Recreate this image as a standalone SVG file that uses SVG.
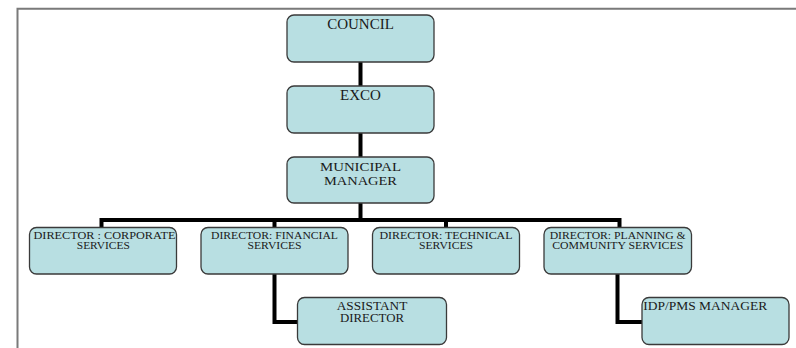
<svg xmlns="http://www.w3.org/2000/svg" width="796" height="348" viewBox="0 0 796 348">
<style>
.box{fill:#b8dfe2;stroke:#3a3a3a;stroke-width:1.3}
.t{font-family:"Liberation Serif","Times New Roman",serif;fill:#1a1a1a;text-anchor:middle}
.big{font-size:15px}
.two{font-size:13.5px}
.mid{font-size:11.5px}
.sm{font-size:9.5px}
.conn{fill:none;stroke:#000;stroke-width:4;stroke-linejoin:miter}
</style>
<rect width="796" height="348" fill="#fff"/>
<path d="M17.5,348 V8.8 H796" fill="none" stroke="#7a7a7a" stroke-width="2"/>
<g id="connectors">
<path class="conn" d="M360.5,62 V86"/>
<path class="conn" d="M360.5,133 V157"/>
<path class="conn" d="M360.5,203 V220"/>
<path class="conn" d="M101.5,227 V220 H619.5 V227"/>
<path class="conn" d="M274.5,220 V227"/>
<path class="conn" d="M446,220 V227"/>
<path class="conn" d="M274.5,274 V322 H298"/>
<path class="conn" d="M617.5,274 V322 H642"/>
</g>
<g id="council">
<rect class="box" x="287" y="15" width="147" height="47" rx="7"/>
<text class="t big" x="360.5" y="29.3">COUNCIL</text>
</g>
<g id="exco">
<rect class="box" x="287" y="86" width="147" height="47" rx="7"/>
<text class="t big" x="360.5" y="100">EXCO</text>
</g>
<g id="municipal-manager">
<rect class="box" x="287" y="157" width="147" height="46" rx="7"/>
<text class="t two" x="360.5" y="170.7" textLength="81" lengthAdjust="spacingAndGlyphs">MUNICIPAL</text>
<text class="t two" x="360.5" y="184.7" textLength="73" lengthAdjust="spacingAndGlyphs">MANAGER</text>
</g>
<g id="dir-corporate">
<rect class="box" x="29.5" y="227.5" width="147" height="46.5" rx="7"/>
<text class="t sm" x="104.5" y="238.5" textLength="142" lengthAdjust="spacingAndGlyphs">DIRECTOR : CORPORATE</text>
<text class="t sm" x="103.3" y="249" textLength="53" lengthAdjust="spacingAndGlyphs">SERVICES</text>
</g>
<g id="dir-financial">
<rect class="box" x="201" y="227.5" width="147" height="46.5" rx="7"/>
<text class="t sm" x="274.5" y="238.5" textLength="127" lengthAdjust="spacingAndGlyphs">DIRECTOR: FINANCIAL</text>
<text class="t sm" x="274.5" y="249" textLength="54" lengthAdjust="spacingAndGlyphs">SERVICES</text>
</g>
<g id="dir-technical">
<rect class="box" x="372.5" y="227.5" width="147" height="46.5" rx="7"/>
<text class="t sm" x="446" y="238.5" textLength="133" lengthAdjust="spacingAndGlyphs">DIRECTOR: TECHNICAL</text>
<text class="t sm" x="446" y="249" textLength="54" lengthAdjust="spacingAndGlyphs">SERVICES</text>
</g>
<g id="dir-planning">
<rect class="box" x="544" y="227.5" width="147.5" height="46.5" rx="7"/>
<text class="t sm" x="617.7" y="238.5" textLength="136" lengthAdjust="spacingAndGlyphs">DIRECTOR: PLANNING &amp;</text>
<text class="t sm" x="617.7" y="249" textLength="131" lengthAdjust="spacingAndGlyphs">COMMUNITY SERVICES</text>
</g>
<g id="assistant-director">
<rect class="box" x="297.5" y="297.5" width="149" height="47" rx="7"/>
<text class="t mid" x="372" y="310" textLength="70.5" lengthAdjust="spacingAndGlyphs">ASSISTANT</text>
<text class="t mid" x="372" y="322" textLength="64" lengthAdjust="spacingAndGlyphs">DIRECTOR</text>
</g>
<g id="idp-pms-manager">
<rect class="box" x="642" y="297.5" width="147" height="47" rx="7"/>
<text class="t mid" x="643.3" y="310" style="text-anchor:start" textLength="124" lengthAdjust="spacingAndGlyphs">IDP/PMS MANAGER</text>
</g>
</svg>
